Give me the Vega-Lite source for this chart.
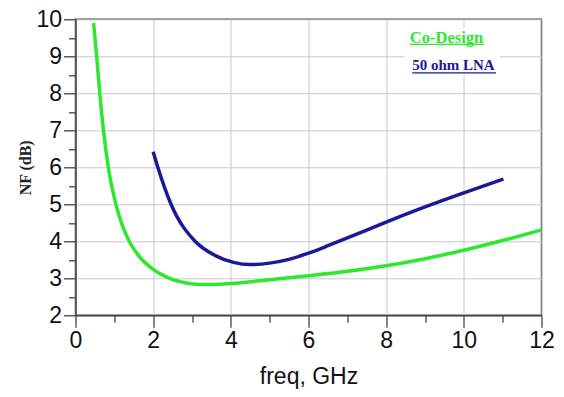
{
  "$schema": "https://vega.github.io/schema/vega-lite/v6.json",
  "width": 466,
  "height": 296,
  "autosize": {"type": "none"},
  "padding": {"left": 75.5, "top": 19.3, "right": 22.5, "bottom": 81.7},
  "background": "white",
  "config": {
    "view": {"stroke": "#444444", "strokeWidth": 1.5},
    "axis": {
      "labelFont": "Liberation Sans",
      "labelFontSize": 23,
      "labelColor": "#111111",
      "domainColor": "#444444",
      "domainWidth": 1.5,
      "tickColor": "#444444",
      "tickWidth": 1.3,
      "gridColor": "#c8c8c8",
      "gridWidth": 1,
      "labelOverlap": false,
      "labelFlush": false
    }
  },
  "resolve": {"axis": {"x": "independent", "y": "independent"}},
  "datasets": {
    "curves": [
      {"series": "Co-Design", "freq": 0.465, "nf": 9.9},
      {"series": "Co-Design", "freq": 0.545, "nf": 9.0},
      {"series": "Co-Design", "freq": 0.625, "nf": 8.0},
      {"series": "Co-Design", "freq": 0.72, "nf": 7.0},
      {"series": "Co-Design", "freq": 0.845, "nf": 6.0},
      {"series": "Co-Design", "freq": 1.04, "nf": 5.0},
      {"series": "Co-Design", "freq": 1.2, "nf": 4.45},
      {"series": "Co-Design", "freq": 1.37, "nf": 4.03},
      {"series": "Co-Design", "freq": 1.62, "nf": 3.62},
      {"series": "Co-Design", "freq": 2.0, "nf": 3.24},
      {"series": "Co-Design", "freq": 2.39, "nf": 3.01},
      {"series": "Co-Design", "freq": 2.82, "nf": 2.88},
      {"series": "Co-Design", "freq": 3.2, "nf": 2.835},
      {"series": "Co-Design", "freq": 3.6, "nf": 2.835},
      {"series": "Co-Design", "freq": 4.0, "nf": 2.86},
      {"series": "Co-Design", "freq": 5.0, "nf": 2.96},
      {"series": "Co-Design", "freq": 6.0, "nf": 3.07},
      {"series": "Co-Design", "freq": 7.0, "nf": 3.19},
      {"series": "Co-Design", "freq": 8.0, "nf": 3.34},
      {"series": "Co-Design", "freq": 9.0, "nf": 3.53},
      {"series": "Co-Design", "freq": 10.0, "nf": 3.76},
      {"series": "Co-Design", "freq": 11.0, "nf": 4.02},
      {"series": "Co-Design", "freq": 12.0, "nf": 4.31},
      {"series": "50 ohm LNA", "freq": 2.0, "nf": 6.42},
      {"series": "50 ohm LNA", "freq": 2.12, "nf": 6.0},
      {"series": "50 ohm LNA", "freq": 2.46, "nf": 5.0},
      {"series": "50 ohm LNA", "freq": 3.08, "nf": 4.0},
      {"series": "50 ohm LNA", "freq": 3.59, "nf": 3.62},
      {"series": "50 ohm LNA", "freq": 4.07, "nf": 3.43},
      {"series": "50 ohm LNA", "freq": 4.5, "nf": 3.37},
      {"series": "50 ohm LNA", "freq": 5.0, "nf": 3.41},
      {"series": "50 ohm LNA", "freq": 5.5, "nf": 3.51},
      {"series": "50 ohm LNA", "freq": 6.0, "nf": 3.68},
      {"series": "50 ohm LNA", "freq": 6.5, "nf": 3.88},
      {"series": "50 ohm LNA", "freq": 7.0, "nf": 4.09},
      {"series": "50 ohm LNA", "freq": 8.0, "nf": 4.52},
      {"series": "50 ohm LNA", "freq": 9.0, "nf": 4.93},
      {"series": "50 ohm LNA", "freq": 10.0, "nf": 5.31},
      {"series": "50 ohm LNA", "freq": 11.02, "nf": 5.68}
    ],
    "legend": [
      {"label": "Co-Design", "x": 8.61, "y": 9.37, "ux2": 10.52, "uy": 9.32, "size": 16.5},
      {"label": "50 ohm LNA", "x": 8.67, "y": 8.63, "ux2": 10.83, "uy": 8.55, "size": 15}
    ],
    "box": [
      {"x": 8.48, "x2": 10.93, "y": 9.76, "y2": 8.49}
    ]
  },
  "layer": [
    {
      "data": {"name": "box"},
      "mark": {"type": "rect", "fill": "white"},
      "encoding": {
        "x": {
          "field": "x", "type": "quantitative",
          "scale": {"domain": [0, 12], "nice": false, "zero": false},
          "axis": {
            "orient": "bottom",
            "values": [1, 3, 5, 7, 9, 11],
            "labels": false,
            "domain": false,
            "grid": false,
            "tickSize": 7,
            "title": null
          }
        },
        "x2": {"field": "x2"},
        "y": {
          "field": "y", "type": "quantitative",
          "scale": {"domain": [2, 10], "nice": false, "zero": false},
          "axis": {
            "orient": "left",
            "values": [2.5, 3.5, 4.5, 5.5, 6.5, 7.5, 8.5, 9.5],
            "labels": false,
            "domain": false,
            "grid": false,
            "tickSize": 7,
            "title": null
          }
        },
        "y2": {"field": "y2"}
      }
    },
    {
      "data": {"name": "curves"},
      "mark": {"type": "line", "strokeWidth": 3.5, "interpolate": "monotone"},
      "encoding": {
        "x": {
          "field": "freq", "type": "quantitative",
          "axis": {
            "orient": "bottom",
            "values": [0, 2, 4, 6, 8, 10, 12],
            "tickSize": 12,
            "grid": true,
            "labelPadding": 2,
            "title": "freq, GHz",
            "titleFont": "Liberation Sans",
            "titleFontSize": 23,
            "titleFontWeight": "normal",
            "titleColor": "#111111",
            "titleBaseline": "alphabetic",
            "titleY": 68
          }
        },
        "y": {
          "field": "nf", "type": "quantitative",
          "axis": {
            "orient": "left",
            "values": [2, 3, 4, 5, 6, 7, 8, 9, 10],
            "tickSize": 12,
            "grid": true,
            "labelPadding": 2,
            "title": "NF (dB)",
            "titleFont": "Liberation Serif",
            "titleFontSize": 16,
            "titleFontWeight": "bold",
            "titleColor": "#222222",
            "titleAngle": -90,
            "titleAlign": "center",
            "titleBaseline": "middle",
            "titleX": -50,
            "titleY": 148
          }
        },
        "color": {
          "field": "series", "type": "nominal",
          "scale": {"domain": ["Co-Design", "50 ohm LNA"], "range": ["#2ee82e", "#1a1a99"]},
          "legend": null
        }
      }
    },
    {
      "data": {"name": "legend"},
      "mark": {"type": "rule", "strokeWidth": 1.2},
      "encoding": {
        "x": {"field": "x", "type": "quantitative", "axis": null},
        "x2": {"field": "ux2"},
        "y": {"field": "uy", "type": "quantitative", "axis": null},
        "color": {"field": "label", "type": "nominal", "scale": {"domain": ["Co-Design", "50 ohm LNA"], "range": ["#22e622", "#4040a8"]}, "legend": null}
      }
    },
    {
      "data": {"name": "legend"},
      "mark": {"type": "text", "align": "left", "baseline": "alphabetic", "font": "Liberation Serif", "fontWeight": "bold"},
      "encoding": {
        "x": {"field": "x", "type": "quantitative", "axis": null},
        "y": {"field": "y", "type": "quantitative", "axis": null},
        "text": {"field": "label"},
        "size": {"field": "size", "type": "quantitative", "scale": null, "legend": null},
        "color": {"field": "label", "type": "nominal", "scale": {"domain": ["Co-Design", "50 ohm LNA"], "range": ["#22e622", "#4040a8"]}, "legend": null}
      }
    }
  ]
}
